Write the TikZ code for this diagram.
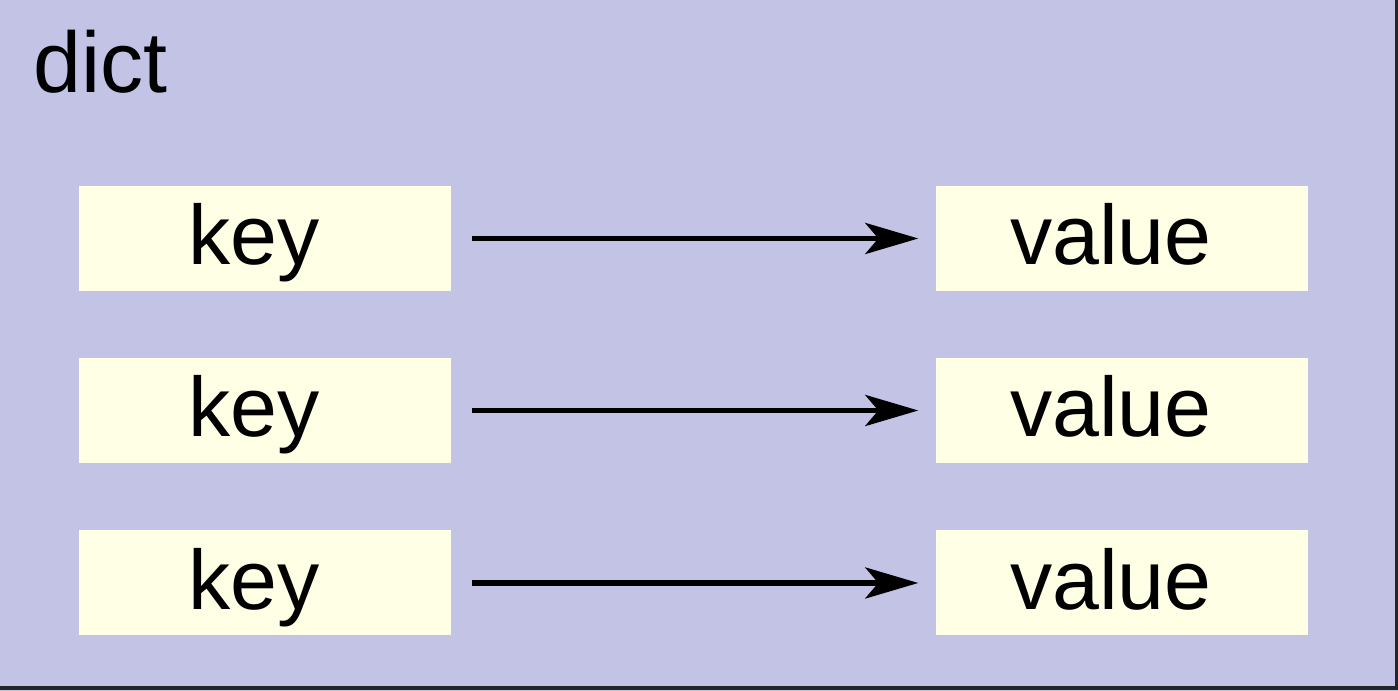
\documentclass[tikz,border=0pt]{standalone}
\usepackage{fontspec}
\setmainfont{Liberation Sans}
\usetikzlibrary{arrows.meta}
\definecolor{dictfill}{HTML}{C3C3E6}
\definecolor{boxfill}{HTML}{FFFFE6}
\tikzstyle{kv}=[fill=boxfill, minimum width=3.72cm, minimum height=1.05cm, inner sep=0, text height=0.7cm, text depth=0.17cm, font=\fontsize{24}{28}\selectfont, execute at begin node=\hspace*{-0.22cm}]
\tikzstyle{arr}=[line width=1.6pt, -{Stealth[length=5.3mm, width=3.1mm, inset=1.3mm]}, shorten <=2mm, shorten >=1.7mm]
\begin{document}
\begin{tikzpicture}
\useasboundingbox (0,0) rectangle (13.98,6.91);
\fill[dictfill] (0,0) rectangle (13.98,6.91);
\draw[line width=0.9pt, color=black!85] (13.965,6.95) -- (13.965,0.03) -- (-0.05,0.03);
\node at (0.33,5.98)[anchor=base west, inner sep=0, font=\fontsize{24.5}{28}\selectfont](dict){dict};
\node at (2.65,4.525)[kv](k1){key};
\node at (2.65,2.805)[kv](k2){key};
\node at (2.65,1.08)[kv](k3){key};
\node at (11.22,4.525)[kv](v1){value};
\node at (11.22,2.805)[kv](v2){value};
\node at (11.22,1.08)[kv](v3){value};
\draw[arr] (k1)--(v1);
\draw[arr] (k2)--(v2);
\draw[arr] (k3)--(v3);
\end{tikzpicture}
\end{document}
